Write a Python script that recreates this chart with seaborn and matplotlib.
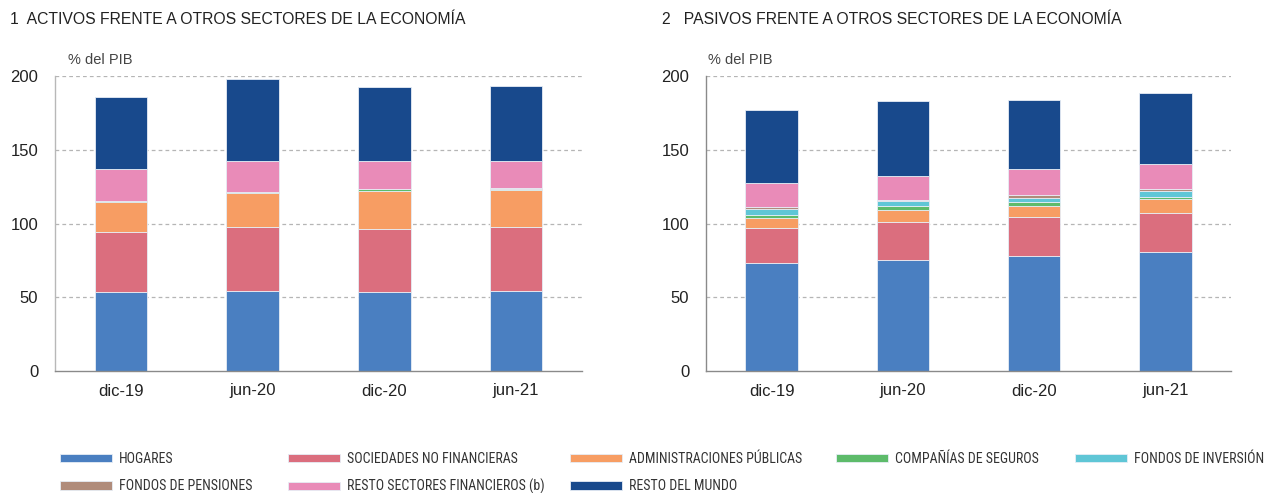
import matplotlib
matplotlib.use("Agg")
import matplotlib.pyplot as plt
from matplotlib import font_manager
import seaborn as sns
import numpy as np

# Periods
fechas = ["dic-19", "jun-20", "dic-20", "jun-21"]

# Series names (stack order, bottom to top)
sectores = [
    "HOGARES",
    "SOCIEDADES NO FINANCIERAS",
    "ADMINISTRACIONES PÚBLICAS",
    "COMPAÑÍAS DE SEGUROS",
    "FONDOS DE INVERSIÓN",
    "FONDOS DE PENSIONES",
    "RESTO SECTORES FINANCIEROS (b)",
    "RESTO DEL MUNDO",
]
colores = ["#4a7fc1", "#db6e7e", "#f79d63", "#5dbb6a",
           "#5fc6d6", "#b08c7b", "#e98bb8", "#18498c"]

# Panel 1: assets vis-à-vis other sectors (% of GDP)
act_hogares = [53.6, 54.0, 53.6, 54.4]
act_snf = [40.6, 43.4, 42.9, 43.0]
act_aapp = [20.6, 23.0, 25.5, 25.6]
act_seguros = [0.5, 1.0, 1.2, 0.3]
act_inversion = [0.0, 0.0, 0.0, 0.0]
act_pensiones = [0.0, 0.0, 0.0, 0.8]
act_resto_fin = [21.7, 21.2, 19.0, 18.6]
act_mundo = [49.0, 55.4, 50.1, 50.6]

# Panel 2: liabilities vis-à-vis other sectors (% of GDP)
pas_hogares = [73.5, 75.3, 78.0, 80.4]
pas_snf = [23.3, 26.0, 26.2, 26.5]
pas_aapp = [7.0, 7.8, 8.0, 9.6]
pas_seguros = [2.2, 2.5, 2.1, 1.8]
pas_inversion = [3.8, 3.4, 3.3, 3.8]
pas_pensiones = [1.1, 1.0, 1.4, 1.4]
pas_resto_fin = [16.4, 16.0, 17.7, 17.0]
pas_mundo = [49.7, 51.0, 46.8, 47.9]

activos = [act_hogares, act_snf, act_aapp, act_seguros,
           act_inversion, act_pensiones, act_resto_fin, act_mundo]
pasivos = [pas_hogares, pas_snf, pas_aapp, pas_seguros,
           pas_inversion, pas_pensiones, pas_resto_fin, pas_mundo]

yticks = [0, 50, 100, 150, 200]

sns.set_theme(style="white")
plt.rcParams["font.family"] = ["Liberation Sans", "DejaVu Sans"]

# Condensed face for the legend, falling back to a smaller regular face
instaladas = {f.name for f in font_manager.fontManager.ttflist}
leyenda_fuente, leyenda_size = "Liberation Sans", 8.3
for nombre, size in [("Liberation Sans Narrow", 10), ("Roboto Condensed", 10),
                     ("DejaVu Sans Condensed", 8.6)]:
    if nombre in instaladas:
        leyenda_fuente, leyenda_size = nombre, size
        break

W, H = 1269, 493
fig = plt.figure(figsize=(W / 100, H / 100), dpi=100)

def px_box(x0, x1, ytop, ybot):
    return [x0 / W, 1 - ybot / H, (x1 - x0) / W, (ybot - ytop) / H]

ax1 = fig.add_axes(px_box(55, 582, 76, 371))
ax2 = fig.add_axes(px_box(706, 1231, 76, 371))

def stacked(ax, series):
    base = np.zeros(len(fechas))
    for nombre, vals, col in zip(sectores, series, colores):
        sns.barplot(x=fechas, y=vals, bottom=base, color=col, width=0.4,
                    errorbar=None, ax=ax, label=nombre, saturation=1,
                    edgecolor="#e6edf5", linewidth=0.6)
        base = base + np.asarray(vals)
    ax.set_xlim(-0.5, 3.5)
    ax.set_ylim(0, 200)
    ax.set_yticks(yticks)
    ax.set_yticklabels([str(v) for v in yticks], fontsize=12, color="#222222")
    ax.tick_params(axis="y", length=0, pad=12)
    ax.tick_params(axis="x", length=0, pad=9, labelsize=12, labelcolor="#222222")
    ax.set_xticks(np.arange(0.5, 3.6, 1.0), minor=True)
    ax.tick_params(axis="x", which="minor", direction="in", length=5,
                   color="#aaaaaa", width=0.8)
    for v in yticks[1:]:
        ax.axhline(v, color="#b5b5b5", linestyle=(0, (3, 2.5)), linewidth=0.9,
                   zorder=0)
    for s in ["top", "right"]:
        ax.spines[s].set_visible(False)
    ax.spines["left"].set_color("#8a8a8a")
    ax.spines["bottom"].set_color("#8a8a8a")
    ax.spines["left"].set_linewidth(1.0)
    ax.spines["bottom"].set_linewidth(1.0)
    ax.set_xlabel("")
    ax.set_ylabel("")
    ax.set_axisbelow(True)
    if ax.get_legend() is not None:
        ax.get_legend().remove()

stacked(ax1, activos)
stacked(ax2, pasivos)
ax1.spines["left"].set_color("#b8b8b8")

# Panel titles and units
fig.text(10 / W, 1 - 20 / H, "1  ACTIVOS FRENTE A OTROS SECTORES DE LA ECONOMÍA",
         fontsize=11.35, va="center", ha="left", color="#222222")
fig.text(662 / W, 1 - 20 / H, "2   PASIVOS FRENTE A OTROS SECTORES DE LA ECONOMÍA",
         fontsize=11.35, va="center", ha="left", color="#222222")
fig.text(68 / W, 1 - 60 / H, "% del PIB", fontsize=10.5, va="center",
         ha="left", color="#444444")
fig.text(708 / W, 1 - 60 / H, "% del PIB", fontsize=10.5, va="center",
         ha="left", color="#444444")

# Legend: one block per column, two rows
handles, labels = ax1.get_legend_handles_labels()
columnas = [([0, 5], 60), ([1, 6], 288), ([2, 7], 570), ([3], 836), ([4], 1075)]
em = leyenda_size * 100 / 72
for idx, x0 in columnas:
    fig.legend([handles[i] for i in idx], [labels[i] for i in idx],
               loc="upper left", bbox_to_anchor=(x0 / W, 1 - 452 / H),
               frameon=False, borderpad=0, borderaxespad=0,
               handlelength=52 / em, handleheight=8 / em,
               handletextpad=7 / em, labelspacing=(27 - em) / em,
               prop={"family": [leyenda_fuente, "DejaVu Sans"],
                     "size": leyenda_size},
               labelcolor="#333333")

fig.savefig("out.png", dpi=100)
